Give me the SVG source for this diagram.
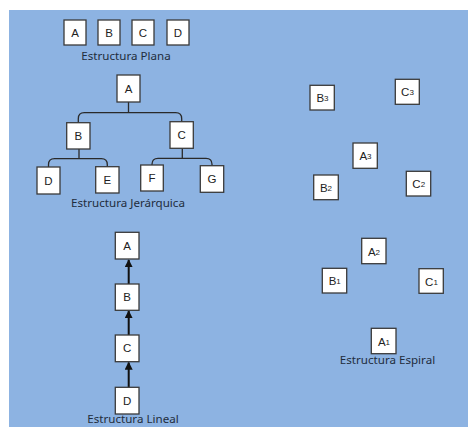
<svg xmlns="http://www.w3.org/2000/svg" width="468" height="427" viewBox="0 0 468 427">
<defs>
<style>
.bx{fill:#ffffff;stroke:#3a3a3a;stroke-width:1.3}
.lt{font-family:"Liberation Sans","Noto Sans",sans-serif;font-size:11.5px;fill:#222222;text-anchor:middle;dominant-baseline:central}
.cap{font-family:"Noto Sans","Liberation Sans",sans-serif;font-size:11.6px;fill:#1f2d3d;text-anchor:middle}
.sub{font-size:8px}
.ln{fill:none;stroke:#2a2a2a;stroke-width:1.3}
.ar{fill:none;stroke:#111111;stroke-width:2}
</style>
<marker id="ah" viewBox="0 0 10 10" refX="9" refY="5" markerWidth="4" markerHeight="4" markerUnits="strokeWidth" orient="auto">
<path d="M0,0 L10,5 L0,10 z" fill="#111111"/>
</marker>
</defs>
<rect x="9" y="10" width="459" height="417" fill="#8db3e2"/>

<g id="connectors">
<path class="ln" d="M128.5 102 V112.7 M78.3 122.7 V118.7 Q78.3 112.7 84.3 112.7 H175.7 Q181.7 112.7 181.7 118.7 V121.7"/>
<path class="ln" d="M79 149 V158.7 M48.5 167 V164.7 Q48.5 158.7 54.5 158.7 H101.3 Q107.3 158.7 107.3 164.7 V166.7"/>
<path class="ln" d="M182.3 148.3 V158.3 M152 165 V164.3 Q152 158.3 158 158.3 H206 Q212 158.3 212 164.3 V165.7"/>
<line class="ar" x1="128.7" y1="284" x2="128.7" y2="260" marker-end="url(#ah)"/>
<line class="ar" x1="128.7" y1="335" x2="128.7" y2="311" marker-end="url(#ah)"/>
<line class="ar" x1="128.7" y1="387" x2="128.7" y2="362.5" marker-end="url(#ah)"/>
</g>

<g id="plana-A"><rect class="bx" x="64" y="20" width="22" height="25"/><text class="lt" x="75" y="32.5">A</text></g>
<g id="plana-B"><rect class="bx" x="98" y="20" width="22" height="25"/><text class="lt" x="109" y="32.5">B</text></g>
<g id="plana-C"><rect class="bx" x="132" y="20" width="22" height="25"/><text class="lt" x="143" y="32.5">C</text></g>
<g id="plana-D"><rect class="bx" x="167" y="20" width="22" height="25"/><text class="lt" x="178" y="32.5">D</text></g>
<text class="cap" x="126" y="60">Estructura Plana</text>

<g id="jer-A"><rect class="bx" x="117" y="75" width="23" height="27"/><text class="lt" x="128.5" y="88.5">A</text></g>
<g id="jer-B"><rect class="bx" x="66.7" y="122.7" width="23.3" height="26.3"/><text class="lt" x="78.3" y="135.8">B</text></g>
<g id="jer-C"><rect class="bx" x="170" y="121.7" width="23.3" height="26.6"/><text class="lt" x="181.7" y="135">C</text></g>
<g id="jer-D"><rect class="bx" x="37" y="167" width="23" height="27"/><text class="lt" x="48.5" y="180.5">D</text></g>
<g id="jer-E"><rect class="bx" x="95.7" y="166.7" width="23.3" height="26.3"/><text class="lt" x="107.3" y="180">E</text></g>
<g id="jer-F"><rect class="bx" x="140.7" y="165" width="22.6" height="26"/><text class="lt" x="152" y="178">F</text></g>
<g id="jer-G"><rect class="bx" x="200.3" y="165.7" width="23.4" height="26.6"/><text class="lt" x="212" y="179">G</text></g>
<text class="cap" x="128" y="207">Estructura Jerárquica</text>

<g id="lin-A"><rect class="bx" x="115.3" y="232.3" width="23.7" height="26.7"/><text class="lt" x="127.2" y="245.7">A</text></g>
<g id="lin-B"><rect class="bx" x="115.3" y="284" width="23.7" height="26.3"/><text class="lt" x="127.2" y="297.2">B</text></g>
<g id="lin-C"><rect class="bx" x="115.3" y="335" width="23.7" height="26.7"/><text class="lt" x="127.2" y="348.3">C</text></g>
<g id="lin-D"><rect class="bx" x="115.3" y="387.3" width="23.7" height="26.7"/><text class="lt" x="127.2" y="400.7">D</text></g>
<text class="cap" x="133" y="423">Estructura Lineal</text>

<g id="esp-B3"><rect class="bx" x="310" y="85.3" width="24.3" height="24.7"/><text class="lt" x="322.5" y="98">B<tspan class="sub">3</tspan></text></g>
<g id="esp-C3"><rect class="bx" x="395.3" y="79.3" width="24" height="25"/><text class="lt" x="407.5" y="92">C<tspan class="sub">3</tspan></text></g>
<g id="esp-A3"><rect class="bx" x="353" y="143" width="24.3" height="25.3"/><text class="lt" x="365.5" y="156">A<tspan class="sub">3</tspan></text></g>
<g id="esp-B2"><rect class="bx" x="313.7" y="175" width="24.6" height="24.7"/><text class="lt" x="326" y="188">B<tspan class="sub">2</tspan></text></g>
<g id="esp-C2"><rect class="bx" x="406.3" y="171.3" width="24.4" height="24.7"/><text class="lt" x="418.7" y="184">C<tspan class="sub">2</tspan></text></g>
<g id="esp-A2"><rect class="bx" x="361.7" y="238.3" width="24.3" height="25.4"/><text class="lt" x="374" y="251.5">A<tspan class="sub">2</tspan></text></g>
<g id="esp-B1"><rect class="bx" x="322.3" y="268.3" width="24.4" height="24.7"/><text class="lt" x="334.7" y="281.3">B<tspan class="sub">1</tspan></text></g>
<g id="esp-C1"><rect class="bx" x="419" y="268.7" width="24.3" height="24.6"/><text class="lt" x="431.5" y="281.5">C<tspan class="sub">1</tspan></text></g>
<g id="esp-A1"><rect class="bx" x="371.3" y="328.3" width="24.7" height="25.4"/><text class="lt" x="384" y="341.5">A<tspan class="sub">1</tspan></text></g>
<text class="cap" x="387.5" y="364">Estructura Espiral</text>
</svg>
